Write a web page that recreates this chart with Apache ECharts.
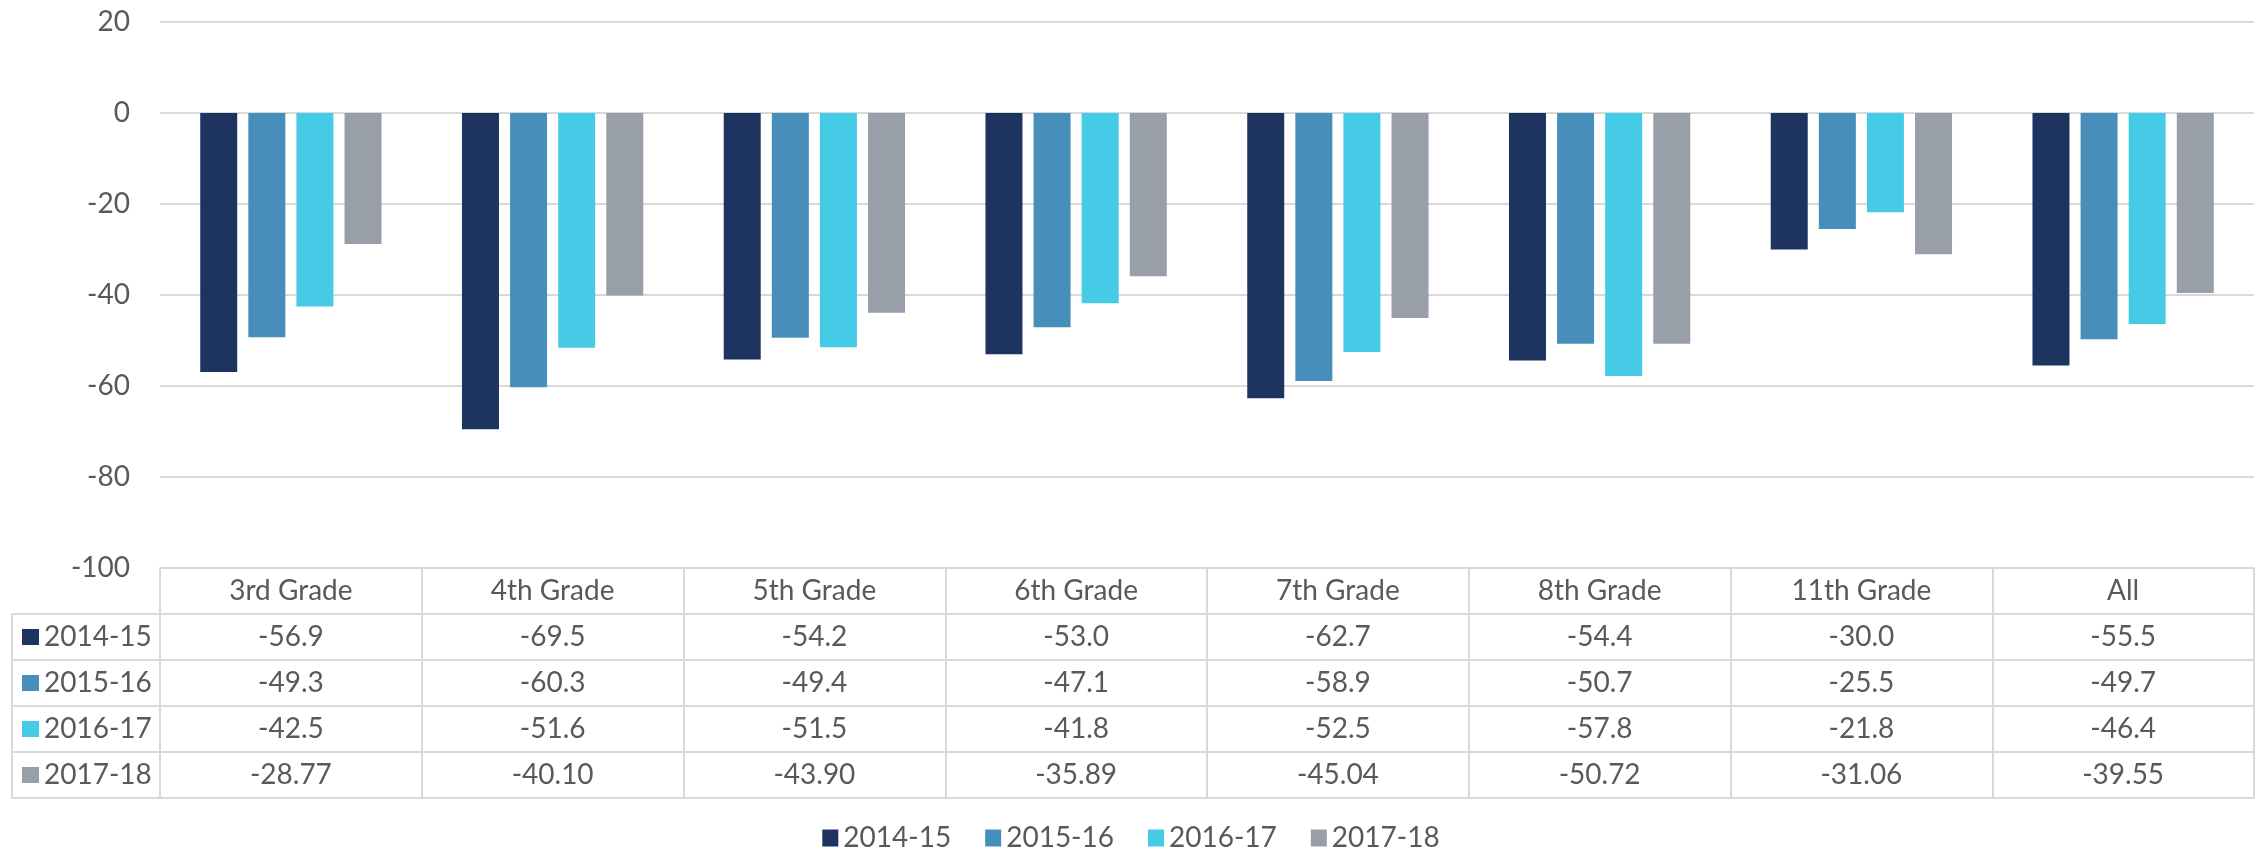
<!DOCTYPE html>
<html>
<head>
<meta charset="utf-8">
<script src="https://cdn.jsdelivr.net/npm/echarts@6/dist/echarts.min.js"></script>
<style>
  html, body { margin: 0; padding: 0; background: #fff; }
  #gaps { width: 2262px; height: 852px; }
</style>
</head>
<body>
<div id="gaps"></div>
<script>
var categories = ['3rd Grade', '4th Grade', '5th Grade', '6th Grade', '7th Grade', '8th Grade', '11th Grade', 'All']
var years = ['2014-15', '2015-16', '2016-17', '2017-18']
var gap1415 = [-56.9, -69.5, -54.2, -53.0, -62.7, -54.4, -30.0, -55.5]
var gap1516 = [-49.3, -60.3, -49.4, -47.1, -58.9, -50.7, -25.5, -49.7]
var gap1617 = [-42.5, -51.6, -51.5, -41.8, -52.5, -57.8, -21.8, -46.4]
var gap1718 = [-28.77, -40.10, -43.90, -35.89, -45.04, -50.72, -31.06, -39.55]
var decimals = [1, 1, 1, 2]
var colors = ['#1d3461', '#478fba', '#45cbe6', '#989fa8']

var gaps = [gap1415, gap1516, gap1617, gap1718]
var font = 'Lato, "Open Sans", sans-serif'
var fontSize = 28
var textColor = '#595959'
var lineColor = '#d9d9d9'
var gridLeft = 160
var tableTop = 568
var rowH = 46

var chart = echarts.init(document.getElementById('gaps'))

function tableAxis (offset, label, tick) {
  return {
    type: 'category',
    data: categories,
    position: 'bottom',
    offset: offset,
    axisLine: { show: true, onZero: false, lineStyle: { color: lineColor, width: 2 } },
    axisTick: { show: tick, interval: 0, length: rowH, lineStyle: { color: lineColor, width: 2 } },
    axisLabel: label
  }
}

var labelBase = { interval: 0, margin: (rowH - fontSize) / 2, fontFamily: font, fontSize: fontSize, lineHeight: fontSize, color: textColor }
var xAxes = [tableAxis(0, labelBase, true)]
gaps.forEach(function (row, r) {
  xAxes.push(tableAxis((r + 1) * rowH, Object.assign({}, labelBase, {
    formatter: function (v, i) { return row[i].toFixed(decimals[r]) }
  }), true))
})
xAxes.push(tableAxis((gaps.length + 1) * rowH, { show: false }, false))

var legends = years.map(function (y, r) {
  return {
    data: [y],
    selectedMode: false,
    left: 22,
    top: tableTop + (r + 1) * rowH + (rowH - fontSize) / 2,
    padding: 0,
    icon: 'rect',
    itemWidth: 17,
    itemHeight: 16,
    textStyle: { fontFamily: font, fontSize: fontSize, color: textColor }
  }
})
legends.push({
  data: years,
  selectedMode: false,
  left: 'center',
  top: 824,
  padding: 0,
  icon: 'rect',
  itemWidth: 16,
  itemHeight: 17,
  itemGap: 34,
  textStyle: { fontFamily: font, fontSize: fontSize, color: textColor }
})

// borders of the row-label column of the table
var boxTop = tableTop + rowH
var boxLines = [{ type: 'line', shape: { x1: 12, y1: boxTop, x2: 12, y2: boxTop + years.length * rowH } }]
for (var k = 0; k <= years.length; k++) {
  boxLines.push({ type: 'line', shape: { x1: 12, y1: boxTop + k * rowH, x2: gridLeft, y2: boxTop + k * rowH } })
}
boxLines.forEach(function (l) { l.style = { stroke: lineColor, lineWidth: 2 }; l.silent = true })

var option = {
  backgroundColor: '#fff',
  animation: false,
  textStyle: { fontFamily: font },
  grid: { left: gridLeft, right: 8, top: 22, bottom: 852 - tableTop, containLabel: false },
  legend: legends,
  xAxis: xAxes,
  yAxis: {
    type: 'value',
    min: -100,
    max: 20,
    interval: 20,
    axisLine: { show: false },
    axisTick: { show: false },
    splitLine: { lineStyle: { color: lineColor, width: 2 } },
    axisLabel: { margin: 30, fontFamily: font, fontSize: fontSize, color: textColor }
  },
  graphic: boxLines,
  series: years.map(function (y, i) {
    return {
      name: y,
      type: 'bar',
      xAxisIndex: 0,
      barWidth: 37,
      barGap: '30%',
      itemStyle: { color: colors[i] },
      data: gaps[i]
    }
  })
}

chart.setOption(option)
window.addEventListener('resize', function () { chart.resize() })
</script>
</body>
</html>
